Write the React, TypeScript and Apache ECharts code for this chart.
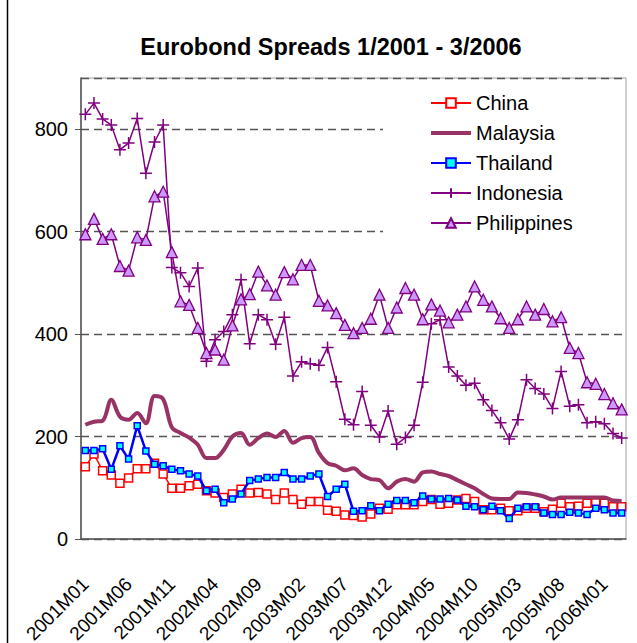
import React, { useEffect, useRef } from "react";
import * as echarts from "echarts";

// Monthly categories 2001M01 .. 2006M03
const months: string[] = [];
for (let y = 2001; y <= 2006; y++) {
  for (let m = 1; m <= 12; m++) {
    if (y === 2006 && m > 3) break;
    months.push(`${y}M${m < 10 ? "0" + m : m}`);
  }
}

const china = [
  141, 166, 133, 125, 109, 119, 137, 137, 148, 127, 99, 99, 104, 107, 94, 90,
  81, 88, 97, 90, 91, 88, 77, 90, 77, 68, 73, 73, 56, 54, 47, 46, 43, 49, 60,
  58, 67, 67, 67, 73, 77, 68, 70, 76, 79, 73, 57, 57, 60, 55, 55, 60, 60, 53,
  58, 70, 63, 64, 70, 71, 70, 63, 63,
];

const malaysia = [
  223, 229, 231, 272, 239, 233, 246, 226, 279, 273, 218, 207, 198, 184, 158,
  158, 174, 200, 207, 184, 197, 206, 199, 211, 188, 197, 199, 168, 148, 143,
  134, 138, 125, 117, 115, 99, 112, 117, 112, 130, 132, 127, 123, 115, 107, 99,
  88, 79, 78, 78, 91, 90, 87, 83, 77, 81, 81, 81, 81, 81, 81, 75, 74,
];

const thailand = [
  173, 173, 176, 136, 182, 156, 221, 172, 146, 143, 136, 133, 127, 123, 94, 97,
  71, 78, 88, 114, 117, 120, 120, 130, 117, 117, 123, 127, 83, 97, 107, 54, 55,
  65, 55, 68, 75, 75, 71, 84, 78, 78, 79, 76, 64, 63, 57, 64, 55, 40, 60, 63,
  63, 51, 48, 48, 52, 51, 48, 60, 57, 51, 51,
];

const indonesia = [
  829, 851, 820, 808, 760, 773, 821, 714, 775, 808, 530, 520, 493, 529, 347,
  389, 405, 438, 506, 381, 438, 428, 380, 433, 318, 346, 342, 339, 374, 307,
  234, 223, 288, 222, 199, 250, 185, 198, 222, 306, 420, 428, 336, 318, 300,
  304, 272, 251, 227, 195, 233, 311, 294, 283, 255, 327, 259, 262, 227, 229,
  225, 206, 197,
];

const philippines = [
  595, 625, 586, 595, 533, 524, 589, 584, 669, 678, 560, 464, 457, 412, 363,
  370, 350, 417, 468, 478, 522, 495, 477, 521, 507, 535, 535, 465, 456, 441,
  418, 402, 412, 430, 477, 412, 452, 490, 477, 429, 458, 446, 423, 438, 454,
  493, 467, 454, 431, 412, 429, 454, 438, 449, 425, 433, 373, 363, 306, 303,
  283, 265, 253,
];

const FONT = "'Liberation Sans', Arial, sans-serif";
const PURPLE = "#800080";
const PLUS = "path://M5 0 L5 10 M0 5 L10 5";
const BAR_ICON = "path://M0 0 H40 V4 H0 Z";

export default function App() {
  const ref = useRef<HTMLDivElement>(null);

  useEffect(() => {
    if (!ref.current) return;
    const chart = echarts.init(ref.current, undefined, { renderer: "svg" });
    chart.setOption({
      animation: false,
      backgroundColor: "#ffffff",
      textStyle: { fontFamily: FONT },
      title: {
        text: "Eurobond Spreads 1/2001 - 3/2006",
        left: 326,
        textAlign: "center",
        top: 30,
        textStyle: {
          fontFamily: FONT,
          fontSize: 23.5,
          fontWeight: "bold",
          color: "#000",
        },
      },
      graphic: [
        {
          type: "line",
          shape: { x1: 7.5, y1: 0, x2: 7.5, y2: 643 },
          style: { stroke: "#000", lineWidth: 1.5 },
          z: 100,
        },
      ],
      legend: {
        orient: "vertical",
        left: 383,
        top: 86,
        width: 200,
        backgroundColor: "#ffffff",
        padding: [7, 50, 12, 47],
        itemWidth: 40,
        itemHeight: 12,
        itemGap: 10,
        z: 10,
        textStyle: { fontFamily: FONT, fontSize: 20, color: "#000" },
        data: [
          "China",
          { name: "Malaysia", icon: BAR_ICON },
          "Thailand",
          "Indonesia",
          "Philippines",
        ],
      },
      grid: {
        left: 81,
        right: 11,
        top: 78,
        bottom: 104,
        outerBoundsMode: "none",
        containLabel: false,
        show: true,
        borderColor: "#a0a0a0",
        borderWidth: 1,
        backgroundColor: "transparent",
      },
      xAxis: {
        type: "category",
        data: months,
        boundaryGap: true,
        axisLine: { lineStyle: { color: "#555", width: 1.5 } },
        axisTick: {
          interval: 0,
          length: 6,
          lineStyle: { color: "#555", width: 1 },
        },
        axisLabel: {
          interval: 4,
          rotate: 45,
          margin: 42,
          fontSize: 19,
          fontFamily: FONT,
          color: "#000",
        },
        splitLine: { show: false },
      },
      yAxis: {
        type: "value",
        min: 0,
        max: 900,
        interval: 200,
        axisLine: { show: true, lineStyle: { color: "#555", width: 1.5 } },
        axisTick: { show: true, length: 6, lineStyle: { color: "#555" } },
        axisLabel: {
          fontSize: 20,
          fontFamily: FONT,
          color: "#000",
          margin: 13,
          showMaxLabel: false,
          formatter: (v: number) => (v > 800 ? "" : String(v)),
        },
        splitLine: {
          show: true,
          lineStyle: { color: "#555", type: [8, 5], width: 1.3 },
        },
      },
      series: [
        {
          name: "China",
          type: "line",
          data: china,
          symbol: "rect",
          symbolSize: 8,
          showAllSymbol: true,
          lineStyle: { color: "#ff0000", width: 1.5 },
          itemStyle: { color: "#ffffff", borderColor: "#ff0000", borderWidth: 1.5 },
          z: 2,
        },
        {
          name: "Malaysia",
          type: "line",
          data: malaysia,
          symbol: "none",
          smooth: 0.35,
          lineStyle: { color: "#993366", width: 4 },
          itemStyle: { color: "#993366" },
          z: 3,
        },
        {
          name: "Thailand",
          type: "line",
          data: thailand,
          symbol: "rect",
          symbolSize: 6,
          showAllSymbol: true,
          lineStyle: { color: "#0000ff", width: 2.5 },
          itemStyle: { color: "#00ffff", borderColor: "#0000ff", borderWidth: 1.5 },
          z: 4,
        },
        {
          name: "Indonesia",
          type: "line",
          data: indonesia,
          symbol: PLUS,
          symbolSize: 12,
          showAllSymbol: true,
          lineStyle: { color: PURPLE, width: 1.5 },
          itemStyle: { color: PURPLE, borderColor: PURPLE, borderWidth: 1.5 },
          z: 5,
        },
        {
          name: "Philippines",
          type: "line",
          data: philippines,
          symbol: "triangle",
          symbolSize: 11,
          showAllSymbol: true,
          lineStyle: { color: PURPLE, width: 1.5 },
          itemStyle: { color: "#cc99ff", borderColor: PURPLE, borderWidth: 1.3 },
          z: 6,
        },
      ],
    });
    return () => chart.dispose();
  }, []);

  return (
    <div
      ref={ref}
      style={{ position: "absolute", left: 0, top: 0, width: 637, height: 643 }}
    />
  );
}
